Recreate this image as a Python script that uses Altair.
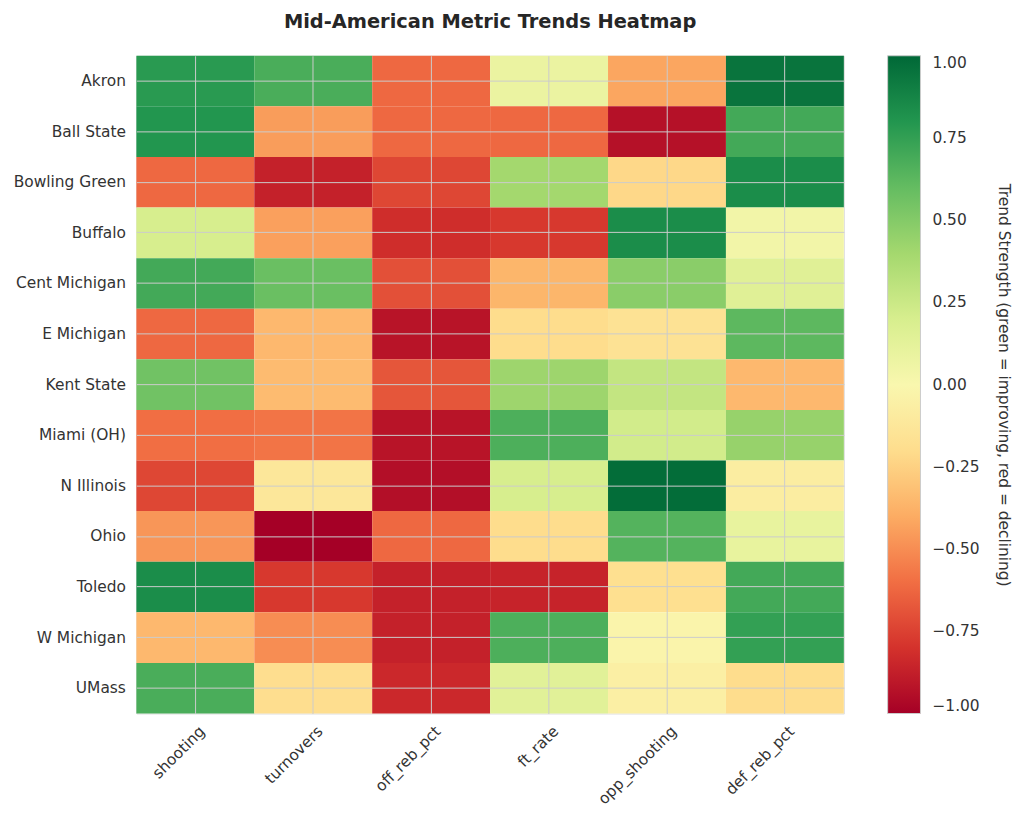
import altair as alt
import pandas as pd

teams = ["Akron", "Ball State", "Bowling Green", "Buffalo", "Cent Michigan",
         "E Michigan", "Kent State", "Miami (OH)", "N Illinois", "Ohio",
         "Toledo", "W Michigan", "UMass"]
metrics = ["shooting", "turnovers", "off_reb_pct", "ft_rate", "opp_shooting", "def_reb_pct"]

shooting     = [0.78, 0.80, -0.62, 0.20, 0.70, -0.62, 0.56, -0.60, -0.73, -0.47, 0.84, -0.35, 0.68]
turnovers    = [0.68, -0.45, -0.87, -0.44, 0.58, -0.35, -0.34, -0.58, -0.12, -1.00, -0.78, -0.50, -0.19]
off_reb_pct  = [-0.62, -0.62, -0.73, -0.82, -0.70, -0.92, -0.68, -0.92, -0.94, -0.62, -0.87, -0.87, -0.84]
ft_rate      = [0.08, -0.62, 0.40, -0.78, -0.36, -0.20, 0.42, 0.67, 0.20, -0.20, -0.86, 0.67, 0.14]
opp_shooting = [-0.42, -0.93, -0.22, 0.84, 0.48, -0.16, 0.28, 0.22, 0.98, 0.65, -0.18, -0.02, -0.06]
def_reb_pct  = [0.95, 0.70, 0.84, 0.04, 0.15, 0.62, -0.35, 0.44, -0.08, 0.10, 0.70, 0.75, -0.20]

legend_values = [-1.0, -0.75, -0.5, -0.25, 0.0, 0.25, 0.5, 0.75, 1.0]
title_text = "Mid-American Metric Trends Heatmap"
legend_title = "Trend Strength (green = improving, red = declining)"

columns = {
    "shooting": shooting, "turnovers": turnovers, "off_reb_pct": off_reb_pct,
    "ft_rate": ft_rate, "opp_shooting": opp_shooting, "def_reb_pct": def_reb_pct,
}
rows = []
for m in metrics:
    for t, v in zip(teams, columns[m]):
        rows.append({"team": t, "metric": m, "value": v})
df = pd.DataFrame(rows)

FONT = "DejaVu Sans"
TXT = "#333333"
FS = 15.5

heat = alt.Chart(df).mark_rect().encode(
    x=alt.X("metric:N", sort=metrics, title=None,
            scale=alt.Scale(paddingInner=0, paddingOuter=0),
            axis=alt.Axis(labelAngle=315, labelAlign="right", labelBaseline="top",
                          labelPadding=10, labelOffset=2, ticks=False, domain=False,
                          grid=True, gridColor="#cccccc", gridWidth=1,
                          bandPosition=0.5, zindex=1, labelFontSize=FS,
                          labelFont=FONT, labelColor=TXT)),
    y=alt.Y("team:N", sort=teams, title=None,
            scale=alt.Scale(paddingInner=0, paddingOuter=0),
            axis=alt.Axis(ticks=False, domain=False, grid=True, gridColor="#cccccc",
                          gridWidth=1, bandPosition=0.5, zindex=1, labelPadding=11,
                          labelFontSize=FS, labelFont=FONT, labelColor=TXT,
                          minExtent=124, maxExtent=124)),
    color=alt.Color("value:Q",
                    scale=alt.Scale(scheme="redyellowgreen", domain=[-1, 1]),
                    legend=alt.Legend(title=None, orient="none", legendX=755, legendY=0,
                                      direction="vertical", gradientLength=661,
                                      gradientThickness=33, values=legend_values,
                                      format=".2f", labelFontSize=FS, labelOffset=12,
                                      labelColor=TXT, labelFont=FONT,
                                      labelBaseline="middle",
                                      gradientStrokeColor="#cccccc", gradientStrokeWidth=1)),
)

ltitle = alt.Chart(pd.DataFrame({"label": [legend_title]})).mark_text(
    angle=90, fontSize=FS, font=FONT, color=TXT, align="center", baseline="middle"
).encode(x=alt.value(872), y=alt.value(331), text="label:N")

chart = alt.layer(heat, ltitle).properties(
    width=711, height=661,
    padding={"left": 5, "top": 2, "right": 5, "bottom": 5},
    title=alt.TitleParams(title_text, fontSize=19.5, font=FONT, fontWeight="bold",
                          color="#262626", anchor="middle", offset=23),
).configure_view(stroke="#cccccc", strokeWidth=1).configure_axis(
    labelFont=FONT, labelColor=TXT
).configure(background="white")

chart.save("out.html", embed_options={"renderer": "svg", "actions": False})
